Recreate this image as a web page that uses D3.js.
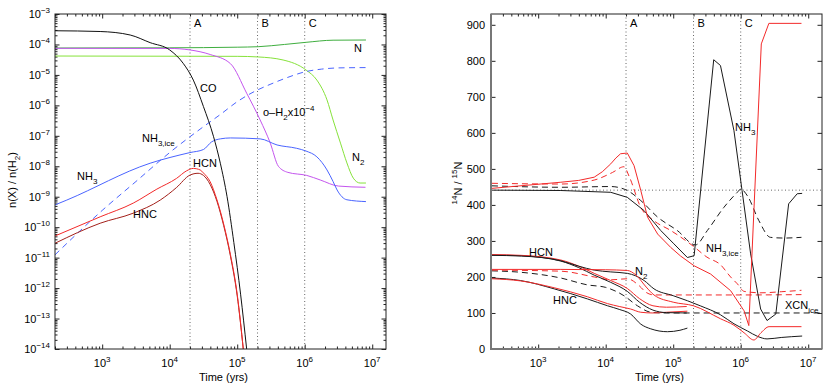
<!DOCTYPE html>
<html>
<head>
<meta charset="utf-8">
<script src="https://cdn.jsdelivr.net/npm/d3@7"></script>
<style>
body { margin: 0; background: #fff; }
svg { font-family: "Liberation Sans", Arial, Helvetica, sans-serif; font-size: 11px; }
</style>
</head>
<body>
<svg width="830" height="386"></svg>
<script>
// ---- data ----
// left panel: [log10 t(yr), log10 n(X)/n(H2)]
var CO    = [[2.3,-3.55],[2.97,-3.575],[3.415,-3.69],[3.71,-3.94],[4.0,-4.18],[4.2,-4.62],[4.35,-5.17],[4.5,-6.04],[4.65,-7.03],[4.75,-7.9],[4.85,-9.0],[4.95,-10.5],[5.05,-12.2],[5.14,-14]];
var N     = [[2.3,-4.117],[4.0,-4.11],[5.0,-4.09],[5.31,-4.074],[5.7,-4.0],[6.02,-3.93],[6.42,-3.86],[6.907,-3.854]];
var N2    = [[2.3,-4.38],[5.0,-4.39],[5.31,-4.41],[5.68,-4.51],[6.02,-4.84],[6.18,-5.17],[6.33,-5.82],[6.42,-6.48],[6.53,-7.24],[6.625,-7.89],[6.72,-8.39],[6.82,-8.55],[6.907,-8.55]];
var oH2   = [[2.3,-4.127],[4.0,-4.13],[4.3,-4.18],[4.6,-4.33],[4.9,-4.63],[5.14,-5.6],[5.34,-6.48],[5.49,-7.24],[5.61,-8.0],[5.75,-8.2],[6.03,-8.3],[6.23,-8.45],[6.5,-8.65],[6.9,-8.69]];
var NH3   = [[2.3,-9.27],[2.476,-9.11],[3.71,-7.9],[4.3,-7.55],[4.5,-7.45],[4.62,-7.2],[4.75,-7.1],[4.9,-7.07],[5.34,-7.1],[5.59,-7.3],[5.88,-7.41],[6.02,-7.5],[6.18,-7.69],[6.33,-8.12],[6.42,-8.5],[6.48,-8.78],[6.625,-9.1],[6.907,-9.16]];
var NH3ice= [[2.3,-10.91],[3.0,-9.45],[3.5,-8.5],[4.0,-7.55],[4.5,-6.7],[4.75,-6.3],[5.0,-5.88],[5.25,-5.55],[5.5,-5.3],[5.75,-5.08],[6.0,-4.9],[6.25,-4.81],[6.5,-4.77],[6.907,-4.76]];
var HCN   = [[2.3,-10.29],[2.97,-9.66],[3.46,-9.21],[3.81,-8.75],[4.1,-8.4],[4.25,-8.15],[4.35,-8.07],[4.45,-8.12],[4.5,-8.22],[4.6,-8.51],[4.7,-9.1],[4.8,-9.9],[4.9,-10.9],[5.0,-12.2],[5.09,-14.0]];
var HNC   = [[2.3,-10.53],[2.97,-9.87],[3.46,-9.54],[3.86,-9.11],[4.1,-8.7],[4.3,-8.29],[4.42,-8.23],[4.5,-8.3],[4.6,-8.6],[4.7,-9.15],[4.8,-9.95],[4.9,-10.95],[5.0,-12.25],[5.09,-14.0]];

// right panel: [log10 t(yr), 14N/15N]
var NH3_k    = [[2.315,441],[3.336,440],[4.075,435],[4.32,421],[4.57,384],[4.815,329],[5.01,292],[5.21,254],[5.31,259],[5.6,803],[5.7,787],[5.9,606],[6.02,440],[6.147,264],[6.295,111],[6.39,79],[6.52,97],[6.71,403],[6.837,431],[6.91,432]];
var NH3_r    = [[2.315,446],[3.336,463],[3.6,468],[3.83,477],[3.95,492],[4.075,514],[4.15,530],[4.22,542],[4.32,544],[4.42,509],[4.52,440],[4.62,366],[4.77,319],[4.963,282],[5.11,258],[5.31,231],[5.555,208],[5.85,162],[6.05,106],[6.12,65],[6.305,847],[6.417,904],[6.9,904]];
var NH3ice_k = [[2.315,453],[3.336,449],[4.075,451],[4.32,440],[4.52,412],[4.77,366],[5.06,329],[5.33,289],[5.506,329],[5.75,393],[5.95,435],[6.0,444],[6.1,425],[6.27,356],[6.44,310],[6.64,308],[6.9,310]];
var NH3ice_r = [[2.315,460],[3.336,458],[3.83,469],[4.1,490],[4.27,506],[4.35,478],[4.52,393],[4.716,356],[4.963,329],[5.3,285],[5.5,255],[5.7,234],[5.85,200],[5.95,181],[6.05,160],[6.3,156],[6.6,159],[6.9,163]];
var XCN_k    = [[2.315,217],[2.74,213],[3.336,197],[3.73,178],[4.0,171],[4.27,148],[4.47,120],[4.67,102],[4.85,100],[7.19,100]];
var XCN_r    = [[2.315,219],[3.336,216],[3.83,200],[4.075,192],[4.32,195],[4.5,175],[4.6,157],[4.72,150],[6.0,150],[6.9,151]];
var HCN_k    = [[2.315,261],[2.75,259],[3.336,244],[3.6,226],[3.83,205],[4.075,185],[4.32,160],[4.5,130],[4.7,108],[4.9,101],[5.2,100]];
var HCN_r    = [[2.315,262],[2.75,260],[3.336,247],[3.6,230],[3.83,210],[4.075,190],[4.32,168],[4.5,140],[4.7,120],[4.9,116],[5.2,118]];
var N2_k     = [[2.315,260],[2.75,258],[3.336,245],[3.6,230],[3.83,219],[4.075,214],[4.32,210],[4.57,190],[4.715,167],[5.0,148],[5.21,134],[5.4,120],[5.7,95],[5.9,70],[6.1,50],[6.25,35],[6.39,28],[6.6,32],[6.91,36]];
var N2_r     = [[2.315,221],[3.336,221],[4.0,220],[4.32,218],[4.45,205],[4.6,172],[4.715,150],[5.0,130],[5.3,120],[5.7,84],[5.9,66],[6.05,45],[6.195,25],[6.3,45],[6.42,62],[6.9,62]];
var HNC_k    = [[2.315,197],[2.74,190],[3.237,167],[3.73,139],[4.027,120],[4.2,110],[4.37,97],[4.52,69],[4.667,56],[4.914,48],[5.1,52],[5.21,58]];
var HNC_r    = [[2.315,195],[2.74,189],[3.237,170],[3.73,145],[4.027,126],[4.2,118],[4.37,111],[4.52,102],[4.7,100],[4.9,102],[5.21,105]];

var phaseTimes = [2e4, 2e5, 1e6];
var phaseNames = ["A", "B", "C"];
var solarRatio = 441;
var xTicks = [1e3, 1e4, 1e5, 1e6, 1e7];
var yTicksLeft = d3.range(-14, -2);       // exponents
var yTicksRight = d3.range(0, 1000, 100);

var svg = d3.select("svg");

var L = {x0: 55, x1: 386, y0: 14, y1: 349};
var R = {x0: 491, x1: 822, y0: 14, y1: 349};

var xL = d3.scaleLog().domain([200, 1.6e7]).range([L.x0, L.x1]);
var xR = d3.scaleLog().domain([200, 1.6e7]).range([R.x0, R.x1]);
var yL = d3.scaleLog().domain([1e-14, 1e-3]).range([L.y1, L.y0]);
var yR = d3.scaleLinear().domain([0, 930]).range([R.y1, R.y0]);

var minorX = xL.ticks().filter(function(d) { return Math.abs(Math.log10(d) % 1) > 1e-6; });
var minorYL = [];
yTicksLeft.forEach(function(e) { for (var m = 2; m < 10; m++) if (e < -3) minorYL.push(m * Math.pow(10, e)); });

// rich text: parts [[string, "n"|"sub"|"sup"]]
function rich(g, x, y, parts, anchor, size) {
  size = size || 11;
  var t = g.append("text").attr("x", x).attr("y", y)
      .attr("text-anchor", anchor || "start").attr("font-size", size + "px");
  var cur = 0;
  parts.forEach(function(p) {
    var off = p[1] === "sub" ? 3.5 : p[1] === "sup" ? -5 : 0;
    var sp = t.append("tspan").text(p[0]).attr("dy", off - cur);
    if (p[1] !== "n") sp.attr("font-size", (size - 3) + "px");
    cur = off;
  });
  return t;
}

function frame(P, x, y, thickLB) {
  var g = svg.append("g");
  // ticks
  var maj = 4.5, mnr = 2.5;
  function ax(gen, pos, vals, len) {
    g.append("g").attr("transform", pos)
      .call(gen.tickValues(vals).tickSizeInner(-len).tickSizeOuter(0).tickFormat(""))
      .call(function(s) { s.select(".domain").remove(); s.selectAll("line").attr("stroke", "#222"); });
  }
  ax(d3.axisBottom(x), "translate(0," + P.y1 + ")", xTicks, maj);
  ax(d3.axisBottom(x), "translate(0," + P.y1 + ")", minorX, mnr);
  ax(d3.axisTop(x), "translate(0," + P.y0 + ")", xTicks, maj);
  ax(d3.axisTop(x), "translate(0," + P.y0 + ")", minorX, mnr);
  return {g: g, ax: ax, maj: maj, mnr: mnr};
}

function box(P, thick) {
  svg.append("rect").attr("x", P.x0).attr("y", P.y0)
    .attr("width", P.x1 - P.x0).attr("height", P.y1 - P.y0)
    .attr("fill", "none").attr("stroke", "#222").attr("stroke-width", 1);
  if (thick) {
    svg.append("path")
      .attr("d", "M" + P.x0 + "," + P.y0 + "V" + P.y1 + "H" + P.x1)
      .attr("fill", "none").attr("stroke", "#777").attr("stroke-width", 2);
  }
}

function xLabels(x, P) {
  xTicks.forEach(function(t) {
    rich(svg, x(t), 367, [["10", "n"], [String(Math.round(Math.log10(t))), "sup"]], "middle");
  });
  svg.append("text").attr("x", (P.x0 + P.x1) / 2 + 3).attr("y", 381)
    .attr("text-anchor", "middle").text("Time (yrs)");
}

function phases(x, P) {
  phaseTimes.forEach(function(t, i) {
    svg.append("line").attr("x1", x(t)).attr("x2", x(t)).attr("y1", P.y0).attr("y2", P.y1)
      .attr("stroke", "#666").attr("stroke-width", 1).attr("stroke-dasharray", "1,2.5");
    svg.append("text").attr("x", x(t) + 4).attr("y", 27).text(phaseNames[i]);
  });
}

// ---------- left panel ----------
var fl = frame(L, xL, yL);
fl.ax(d3.axisLeft(yL), "translate(" + L.x0 + ",0)", yTicksLeft.map(function(e) { return Math.pow(10, e); }), fl.maj);
fl.ax(d3.axisLeft(yL), "translate(" + L.x0 + ",0)", minorYL, fl.mnr);
fl.ax(d3.axisRight(yL), "translate(" + L.x1 + ",0)", yTicksLeft.map(function(e) { return Math.pow(10, e); }), fl.maj);
fl.ax(d3.axisRight(yL), "translate(" + L.x1 + ",0)", minorYL, fl.mnr);

phases(xL, L);

svg.append("clipPath").attr("id", "clipL").append("rect")
  .attr("x", L.x0).attr("y", L.y0).attr("width", L.x1 - L.x0).attr("height", L.y1 - L.y0);
var gl = svg.append("g").attr("clip-path", "url(#clipL)");

var lineL = d3.line().curve(d3.curveMonotoneX)
  .x(function(d) { return xL(Math.pow(10, d[0])); })
  .y(function(d) { return yL(Math.pow(10, d[1])); });

var leftSeries = [
  {d: N,      c: "#3fae3f"},
  {d: N2,     c: "#86e23a"},
  {d: oH2,    c: "#c455ee"},
  {d: NH3,    c: "#4a64ff"},
  {d: NH3ice, c: "#4a64ff", dash: "6,4.5"},
  {d: CO,     c: "#111"},
  {d: HNC,    c: "#a3201a"},
  {d: HCN,    c: "#f22a2a"}
];
leftSeries.forEach(function(s) {
  gl.append("path").attr("d", lineL(s.d)).attr("fill", "none")
    .attr("stroke", s.c).attr("stroke-width", 1)
    .attr("stroke-dasharray", s.dash || null);
});

box(L, false);

yTicksLeft.forEach(function(e) {
  rich(svg, 50, yL(Math.pow(10, e)) + 4, [["10", "n"], ["\u2212" + (-e), "sup"]], "end");
});
xLabels(xL, L);
svg.append("text").attr("transform", "translate(16,180) rotate(-90)")
  .attr("text-anchor", "middle")
  .call(function(t) {
    t.append("tspan").text("n(X) / n(H");
    t.append("tspan").text("2").attr("font-size", "8px").attr("dy", 3.5);
    t.append("tspan").text(")").attr("dy", -3.5);
  });

rich(svg, 354, 52, [["N", "n"]]);
rich(svg, 200, 92, [["CO", "n"]]);
rich(svg, 263, 116, [["o\u2013H", "n"], ["2", "sub"], ["x10", "n"], ["\u22124", "sup"]]);
rich(svg, 142, 142, [["NH", "n"], ["3,ice", "sub"]]);
rich(svg, 77, 180, [["NH", "n"], ["3", "sub"]]);
rich(svg, 193, 167, [["HCN", "n"]]);
rich(svg, 133, 218, [["HNC", "n"]]);
rich(svg, 352, 161, [["N", "n"], ["2", "sub"]]);

// ---------- right panel ----------
var fr = frame(R, xR, yR);
fr.ax(d3.axisLeft(yR), "translate(" + R.x0 + ",0)", yTicksRight, fr.maj);
fr.ax(d3.axisRight(yR), "translate(" + R.x1 + ",0)", yTicksRight, fr.maj);

phases(xR, R);
svg.append("line").attr("x1", R.x0).attr("x2", R.x1)
  .attr("y1", yR(solarRatio)).attr("y2", yR(solarRatio))
  .attr("stroke", "#666").attr("stroke-width", 1).attr("stroke-dasharray", "1,2.5");

svg.append("clipPath").attr("id", "clipR").append("rect")
  .attr("x", R.x0).attr("y", R.y0).attr("width", R.x1 - R.x0).attr("height", R.y1 - R.y0);
var gr = svg.append("g").attr("clip-path", "url(#clipR)");

function lineR(curve) {
  return d3.line().curve(curve)
    .x(function(d) { return xR(Math.pow(10, d[0])); })
    .y(function(d) { return yR(d[1]); });
}
var K = "#1a1a1a", RD = "#f32a2a";
var rightSeries = [
  {d: XCN_k,    c: K,  dash: "6,4"},
  {d: XCN_r,    c: RD, dash: "6,4"},
  {d: NH3ice_k, c: K,  dash: "6,4"},
  {d: NH3ice_r, c: RD, dash: "6,4"},
  {d: HNC_k,    c: K},
  {d: HNC_r,    c: RD},
  {d: HCN_k,    c: K},
  {d: HCN_r,    c: RD},
  {d: N2_k,     c: K},
  {d: N2_r,     c: RD},
  {d: NH3_k,    c: K,  lin: true},
  {d: NH3_r,    c: RD, lin: true}
];
rightSeries.forEach(function(s) {
  gr.append("path").attr("d", lineR(s.lin ? d3.curveLinear : d3.curveMonotoneX)(s.d))
    .attr("fill", "none").attr("stroke", s.c).attr("stroke-width", 1)
    .attr("stroke-dasharray", s.dash || null);
});

box(R, true);

yTicksRight.forEach(function(v) {
  svg.append("text").attr("x", 485).attr("y", yR(v) + 4).attr("text-anchor", "end").text(v);
});
xLabels(xR, R);
svg.append("text").attr("transform", "translate(462,183) rotate(-90)")
  .attr("text-anchor", "middle")
  .call(function(t) {
    t.append("tspan").text("14").attr("font-size", "8px").attr("dy", -5);
    t.append("tspan").text("N / ").attr("dy", 5);
    t.append("tspan").text("15").attr("font-size", "8px").attr("dy", -5);
    t.append("tspan").text("N").attr("dy", 5);
  });

rich(svg, 529, 256, [["HCN", "n"]]);
rich(svg, 553, 304, [["HNC", "n"]]);
rich(svg, 635, 275, [["N", "n"], ["2", "sub"]]);
rich(svg, 735, 131, [["NH", "n"], ["3", "sub"]]);
rich(svg, 706, 252, [["NH", "n"], ["3,ice", "sub"]]);
rich(svg, 785, 309, [["XCN", "n"], ["ice", "sub"]]);
</script>
</body>
</html>
